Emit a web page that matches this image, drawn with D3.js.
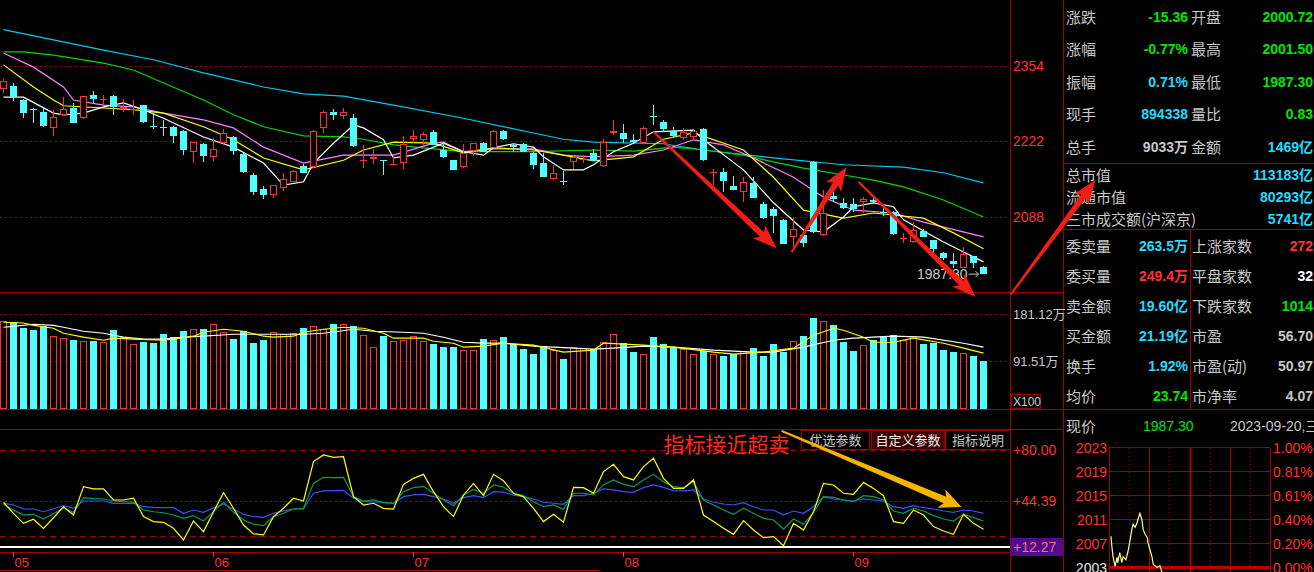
<!DOCTYPE html>
<html>
  <head>
    <meta charset="utf-8">
    <title>日K 成交量 RSI</title>
    <style>
      html, body {
        margin: 0;
        background: #000;
        overflow: hidden;
      }
      svg {
        display: block;
        font-family: 'Liberation Sans', Arial, 'Noto Sans CJK SC', sans-serif;
      }
      .cn {
        font-family: 'Noto Sans CJK SC', sans-serif;
      }
      .val {
        font-weight: bold;
        font-size: 14px;
      }
      .lbl {
        font-size: 15px;
        fill: #c8c8c8;
      }
    </style>
  </head>
  <body>
    <svg width="1314" height="572"></svg>
    <script src="https://d3js.org/d3.v7.min.js"></script>
    <script>
      // ---- daily bars, 2023-04-28 .. 2023-09-20 ----
      const opens = [
        2314, 2319, 2294, 2278, 2273, 2245, 2268, 2280, 2262, 2303,
        2294, 2301, 2278, 2277, 2285, 2248, 2247, 2247, 2240, 2203,
        2217, 2194, 2218, 2229, 2199, 2162, 2137, 2127, 2139, 2150,
        2178, 2176, 2245, 2273, 2266, 2262, 2187, 2190, 2189, 2180,
        2183, 2226, 2224, 2238, 2206, 2188, 2176, 2204, 2218, 2210,
        2240, 2215, 2217, 2201, 2183, 2155, 2152, 2185, 2189, 2201,
        2178, 2236, 2236, 2224, 2218, 2266, 2255, 2240, 2227, 2229,
        2243, 2166, 2167, 2143, 2132, 2148, 2111, 2102, 2083, 2053,
        2056, 2185, 2056, 2125, 2113, 2111, 2115, 2118, 2097, 2097,
        2049, 2044, 2063, 2048, 2025, 2011, 1998, 2019, 2000.72
      ];
      const highs = [
        2331, 2324, 2296, 2280, 2280, 2277, 2299, 2289, 2302, 2310,
        2303, 2303, 2296, 2294, 2286, 2271, 2259, 2248, 2241, 2221,
        2218, 2227, 2243, 2230, 2200, 2166, 2143, 2145, 2166, 2170,
        2181, 2241, 2275, 2278, 2280, 2269, 2215, 2208, 2189, 2196,
        2231, 2242, 2238, 2241, 2220, 2189, 2217, 2219, 2220, 2241,
        2242, 2218, 2218, 2203, 2201, 2180, 2169, 2197, 2197, 2208,
        2226, 2259, 2252, 2234, 2246, 2285, 2259, 2247, 2245, 2242,
        2244, 2173, 2174, 2160, 2159, 2159, 2114, 2106, 2084, 2088,
        2060, 2187, 2136, 2136, 2122, 2122, 2123, 2123, 2109, 2099,
        2060, 2079, 2067, 2048, 2026, 2025, 2035, 2020, 2001.50
      ];
      const lows = [
        2307, 2292, 2262, 2254, 2247, 2231, 2267, 2253, 2261, 2289,
        2284, 2268, 2273, 2268, 2254, 2243, 2231, 2218, 2197, 2183,
        2185, 2187, 2216, 2197, 2165, 2127, 2120, 2122, 2134, 2149,
        2165, 2175, 2236, 2259, 2261, 2212, 2174, 2181, 2162, 2179,
        2173, 2218, 2215, 2214, 2192, 2170, 2175, 2196, 2202, 2209,
        2224, 2203, 2202, 2173, 2158, 2154, 2144, 2173, 2183, 2186,
        2176, 2233, 2218, 2219, 2217, 2250, 2238, 2229, 2224, 2224,
        2187, 2144, 2132, 2135, 2115, 2121, 2085, 2060, 2040, 2035,
        2035, 2060, 2055, 2115, 2102, 2097, 2095, 2113, 2090, 2057,
        2042, 2043, 2052, 2025, 2012, 1998, 1998, 1998, 1987.30
      ];
      const closes = [
        2328, 2299, 2271, 2277, 2248, 2264, 2278, 2254, 2301, 2296,
        2296, 2282, 2282, 2279, 2255, 2247, 2245, 2231, 2206, 2220,
        2196, 2208, 2236, 2204, 2167, 2132, 2127, 2144, 2155, 2169,
        2166, 2240, 2273, 2268, 2273, 2213, 2189, 2194, 2187, 2182,
        2217, 2231, 2234, 2215, 2194, 2171, 2201, 2218, 2203, 2240,
        2226, 2211, 2203, 2180, 2159, 2166, 2150, 2194, 2190, 2187,
        2220, 2240, 2226, 2220, 2245, 2264, 2243, 2231, 2238, 2240,
        2188, 2167, 2152, 2136, 2150, 2122, 2086, 2090, 2040, 2067,
        2042, 2062, 2095, 2120, 2104, 2102, 2120, 2114, 2095, 2058,
        2051, 2065, 2053, 2032, 2016, 2005, 2023, 2007, 1987.30
      ];
      // volume, 万 (x100)
      const volumes = [
        168.3, 167.2, 154.4, 150.6, 158.2, 140.5, 136.7, 131.5, 131.0, 129.6,
        127.2, 150.6, 137.8, 123.4, 127.7, 125.8, 143.0, 137.3, 148.7, 153.9,
        152.5, 163.4, 148.1, 133.5, 148.7, 125.8, 131.5, 148.1, 143.0, 146.2,
        154.4, 159.6, 153.9, 162.1, 163.4, 158.2, 142.4, 119.5, 139.2, 129.1,
        132.9, 140.5, 129.1, 123.9, 118.2, 118.2, 111.9, 111.9, 133.5, 132.9,
        137.3, 123.4, 114.4, 104.9, 120.1, 112.5, 95.3, 118.8, 117.6, 115.0,
        127.2, 144.3, 125.3, 108.7, 104.9, 137.3, 124.5, 116.9, 113.8, 104.9,
        110.6, 104.9, 101.6, 104.9, 110.6, 116.3, 101.6, 123.9, 109.2, 129.6,
        139.7, 174.1, 167.8, 160.7, 128.3, 111.1, 122.0, 132.9, 137.3, 141.1,
        132.9, 140.5, 124.5, 126.4, 112.5, 109.2, 107.3, 101.0, 91.51
      ];

      // moving averages: [bar index, value]
      const ma5 = [[0,2299],[2,2299],[5,2271],[6,2268],[8,2271],[10,2282],[12,2289],[14,2277],[16,2262],[20,2229],[23,2211],[26,2183],[28,2144],[30,2150],[31,2183],[33,2218],[35,2250],[36,2245],[38,2224],[39,2192],[41,2197],[43,2211],[44,2218],[46,2203],[48,2197],[49,2210],[51,2217],[53,2211],[54,2194],[56,2171],[58,2171],[59,2180],[61,2203],[63,2218],[65,2238],[69,2241],[70,2224],[74,2171],[77,2113],[80,2065],[82,2062],[84,2088],[85,2106],[87,2113],[89,2106],[90,2083],[94,2044],[98,2009]];
      const ma10 = [[0,2356],[3,2317],[5,2294],[6,2284],[10,2280],[13,2277],[16,2271],[20,2247],[23,2224],[26,2192],[30,2171],[34,2188],[36,2206],[39,2220],[43,2218],[46,2201],[49,2210],[53,2206],[56,2197],[59,2187],[63,2194],[66,2225],[69,2236],[74,2206],[77,2158],[80,2100],[84,2086],[87,2095],[92,2086],[95,2060],[98,2032]];
      const ma20 = [[0,2377],[3,2352],[6,2317],[7,2294],[10,2285],[13,2282],[16,2271],[20,2259],[23,2245],[26,2211],[30,2183],[34,2197],[39,2197],[43,2218],[44,2220],[46,2203],[49,2208],[53,2208],[56,2197],[59,2194],[63,2197],[66,2206],[69,2224],[72,2215],[75,2192],[79,2158],[82,2123],[85,2100],[89,2095],[92,2079],[98,2053]];
      const ma60 = [[0,2379],[2,2379],[5,2373],[10,2359],[13,2347],[16,2324],[20,2294],[23,2268],[26,2247],[30,2231],[34,2229],[36,2225],[39,2215],[43,2208],[46,2203],[53,2203],[59,2206],[63,2204],[67,2211],[70,2206],[74,2197],[77,2185],[80,2174],[84,2162],[87,2153],[90,2141],[94,2118],[98,2088]];
      const ma120 = [[0,2418],[5,2400],[10,2382],[15,2365],[20,2342],[26,2317],[30,2305],[34,2301],[39,2285],[46,2262],[53,2236],[56,2225],[59,2220],[66,2217],[70,2206],[77,2192],[84,2180],[90,2176],[94,2166],[98,2148]];

      const volMa5 = [[0,165.9],[2,164.5],[3,160.1],[5,154.4],[6,144.9],[8,137.3],[10,131.5],[11,135.4],[13,133.5],[16,131.5],[17,133.5],[19,139.2],[20,146.8],[22,152.5],[24,148.7],[26,139.2],[27,137.3],[29,139.2],[30,146.8],[32,152.5],[34,156.3],[36,154.4],[38,144.9],[39,135.4],[42,135.4],[43,129.6],[45,125.8],[46,118.2],[48,120.1],[50,125.8],[53,122.0],[56,108.7],[59,112.5],[60,125.8],[64,122.0],[67,118.2],[71,108.7],[73,104.9],[76,108.7],[79,116.3],[81,141.1],[83,154.4],[84,150.6],[86,137.3],[87,127.7],[89,127.7],[91,135.4],[94,125.8],[96,116.3],[98,106.8]];
      const volMa10 = [[0,156.3],[1,158.2],[3,162.1],[5,160.1],[6,156.3],[8,148.7],[10,144.9],[12,137.3],[14,133.5],[16,133.5],[18,137.3],[20,139.2],[23,143.0],[26,143.0],[30,143.0],[32,144.9],[35,152.5],[37,148.7],[40,146.8],[42,144.9],[44,137.3],[46,127.7],[48,125.8],[50,125.8],[53,120.1],[57,116.3],[59,114.4],[61,116.3],[64,120.1],[67,118.2],[71,112.5],[75,108.7],[77,108.7],[80,118.2],[83,131.5],[85,135.4],[89,139.2],[92,137.3],[96,125.8],[98,118.2]];

      // RSI 6 / 12 / 24
      const rsi6 = [
        43.5, 35.8, 28.8, 31.6, 25.3, 32.7, 40.4, 34.6, 54.4, 52.8,
        52.8, 45.1, 45.1, 46.3, 33.5, 30.0, 29.5, 25.3, 17.2, 30.4,
        23.0, 36.9, 50.2, 39.3, 27.6, 21.4, 20.7, 33.5, 39.3, 46.3,
        44.4, 71.9, 76.5, 74.9, 75.3, 47.4, 41.6, 42.8, 39.3, 38.8,
        56.0, 60.2, 63.0, 50.9, 40.4, 33.5, 48.6, 56.7, 48.1, 63.0,
        58.5, 49.8, 47.4, 39.3, 30.0, 35.1, 29.5, 53.9, 53.7, 49.8,
        64.9, 70.0, 61.4, 59.1, 68.4, 74.2, 60.2, 53.2, 53.2, 59.1,
        34.6, 30.0, 25.3, 21.1, 30.7, 24.1, 18.8, 19.5, 13.2, 28.8,
        24.1, 36.9, 56.7, 55.6, 49.8, 49.1, 57.4, 53.2, 48.1, 30.0,
        28.8, 38.1, 34.6, 26.5, 23.4, 21.1, 35.1, 28.8, 24.6
      ];
      const rsi12 = [
        42.1, 38.0, 34.6, 35.1, 31.8, 35.5, 39.3, 36.5, 46.7, 46.0,
        45.8, 44.4, 44.0, 43.5, 38.1, 36.9, 36.2, 34.6, 32.3, 34.2,
        30.4, 37.0, 43.5, 36.5, 31.1, 28.3, 27.2, 33.5, 35.8, 38.8,
        39.3, 56.7, 60.9, 60.7, 60.9, 47.4, 44.4, 45.1, 43.2, 42.8,
        50.9, 53.7, 54.6, 49.8, 45.1, 41.1, 48.6, 52.5, 49.8, 55.6,
        54.2, 49.6, 48.1, 43.9, 40.4, 41.6, 38.6, 49.8, 49.8, 48.6,
        55.6, 59.1, 56.0, 54.4, 59.1, 63.0, 57.9, 54.4, 53.7, 57.9,
        45.1, 41.6, 38.1, 35.1, 39.3, 35.8, 32.3, 31.1, 24.8, 31.8,
        28.1, 36.5, 47.4, 46.9, 45.1, 43.9, 48.1, 47.4, 45.1, 37.4,
        35.8, 39.3, 37.4, 34.2, 31.8, 30.4, 35.1, 32.8, 30.4
      ];
      const rsi24 = [
        42.8, 41.6, 38.8, 38.8, 36.9, 39.0, 41.1, 39.3, 44.4, 44.4,
        44.4, 42.8, 42.8, 42.8, 40.4, 40.0, 39.8, 39.7, 35.8, 38.1,
        36.5, 39.5, 42.3, 38.6, 35.1, 33.5, 33.0, 35.8, 37.5, 38.8,
        38.8, 49.8, 51.4, 51.6, 51.8, 46.3, 43.9, 43.7, 43.5, 42.8,
        47.4, 48.6, 49.0, 47.4, 45.8, 42.8, 46.7, 48.1, 46.7, 50.9,
        50.6, 48.5, 47.4, 45.8, 43.5, 42.8, 42.1, 48.1, 48.1, 49.8,
        52.8, 52.1, 50.9, 50.4, 53.7, 55.6, 53.9, 51.6, 51.4, 52.1,
        45.8, 43.5, 42.3, 41.6, 43.2, 40.4, 38.1, 38.1, 34.6, 37.4,
        35.8, 40.4, 47.4, 45.8, 45.1, 44.4, 45.8, 45.1, 44.4, 40.4,
        39.3, 41.1, 39.7, 38.8, 37.4, 36.5, 38.1, 37.4, 35.8
      ];

      const priceTicks = [2354, 2222, 2088];
      const volTicks = [181.12, 91.51];
      const rsiTicks = [80, 44.39, 12.27];
      const rsiBands = [80, 20];
      const monthStarts = [1, 21, 41, 62, 85];
      const monthLabels = ['05', '06', '07', '08', '09'];

      // right info panel
      const quoteLabels = ['涨跌', '涨幅', '振幅', '现手', '总手'];
      const quoteValues = ['-15.36', '-0.77%', '0.71%', '894338', '9033万'];
      const quoteLabels2 = ['开盘', '最高', '最低', '量比', '金额'];
      const quoteValues2 = ['2000.72', '2001.50', '1987.30', '0.83', '1469亿'];
      const marketLabels = ['总市值', '流通市值', '三市成交额(沪深京)'];
      const marketValues = ['113183亿', '80293亿', '5741亿'];
      const orderLabels = ['委卖量', '委买量', '卖金额', '买金额', '换手', '均价'];
      const orderValues = ['263.5万', '249.4万', '19.60亿', '21.19亿', '1.92%', '23.74'];
      const breadthLabels = ['上涨家数', '平盘家数', '下跌家数', '市盈', '市盈(动)', '市净率'];
      const breadthValues = ['272', '32', '1014', '56.70', '50.97', '4.07'];

      // intraday mini chart: [minute, price]
      const intraday = [[3,2008.2],[4,2006.8],[6,2004.8],[9,2003.2],[12,2004.7],[13,2003.8],[16,2005.5],[19,2003.8],[21,2004.8],[25,2004.3],[28,2005.5],[31,2007.3],[34,2009.3],[36,2010.2],[39,2009.7],[42,2010.5],[43,2011.0],[46,2012.0],[49,2011.0],[51,2009.3],[54,2008.5],[57,2008.0],[58,2007.2],[61,2006.0],[64,2004.8],[66,2003.5],[72,2003.0],[76,2003.3],[79,2002.2]];
      const miniPriceTicks = [2023, 2019, 2015, 2011, 2007, 2003];
      const miniPctTicks = ['1.00%', '0.81%', '0.61%', '0.40%', '0.20%', '0.00%'];

      // annotations, in (bar index, price) / (bar index, rsi)
      const trendArrows = [
        [65, 2238, 77.3, 2033],
        [78.8, 2026, 84.3, 2176],
        [85.5, 2150, 97.2, 1947],
        [100.7, 1951, 109.2, 2153]
      ];
      const rsiArrow = [77.8, 93.3, 95.8, 40.2];

      // ---- drawing ----
      const svg = d3.select('svg');
      const RED = '#ff3232', CYAN = '#54fcfc', FRAME = '#a00000', GRID = '#a00000';
      const TXT = '#c8c8c8', GREEN = '#00e600', SKY = '#20dcff';

      const x = d3.scaleLinear().domain([0, 98]).range([3.5, 983.5]);
      const yPrice = d3.scaleLinear().domain([2088, 2354]).range([217, 66]);
      const yVol = d3.scaleLinear().domain([0, 181.12]).range([409, 314.3]);
      const yRsi = d3.scaleLinear().domain([12.27, 80]).range([547, 450]);
      const snap = v => Math.round(v) + 0.5;

      const hline = (y, x1, x2, color, w, dash) => svg.append('line')
        .attr('x1', x1).attr('x2', x2).attr('y1', y).attr('y2', y)
        .attr('stroke', color).attr('stroke-width', w || 1)
        .attr('stroke-dasharray', dash || null);
      const vline = (xv, y1, y2, color, w, dash) => svg.append('line')
        .attr('x1', xv).attr('x2', xv).attr('y1', y1).attr('y2', y2)
        .attr('stroke', color).attr('stroke-width', w || 1)
        .attr('stroke-dasharray', dash || null);

      // frames
      vline(1010.5, 0, 572, FRAME);
      vline(1063.5, 0, 572, FRAME);
      hline(292.5, 0, 1063, FRAME);
      hline(409.5, 0, 1314, FRAME);
      hline(429.5, 0, 1063, FRAME);
      hline(552.5, 0, 1063, FRAME);
      hline(570.5, 0, 600, FRAME);

      // price grid + labels
      priceTicks.forEach(p => {
        hline(snap(yPrice(p)), 0, 1010, GRID, 1, '2,3');
        svg.append('text').attr('x', 1013).attr('y', yPrice(p) + 5)
          .attr('fill', RED).attr('font-size', 14).text(p);
      });

      // moving averages
      const maLine = d3.line().x(d => x(d[0])).y(d => yPrice(d[1]));
      [[ma120, '#00c8f0'], [ma60, '#00d800'], [ma20, '#ff80ff'], [ma10, '#ffff00'], [ma5, '#ffffff']]
        .forEach(([data, color]) => {
          svg.append('path').attr('d', maLine(data)).attr('fill', 'none')
            .attr('stroke', color).attr('stroke-width', 1.2);
        });

      // candles
      const bars = d3.range(opens.length);
      const isUp = i => closes[i] >= opens[i];
      const cg = svg.append('g');
      bars.forEach(i => {
        const cx = Math.floor(x(i)) + 0.5;
        const top = Math.round(yPrice(Math.max(opens[i], closes[i])));
        const bot = Math.round(yPrice(Math.min(opens[i], closes[i])));
        const hi = Math.round(yPrice(highs[i])), lo = Math.round(yPrice(lows[i]));
        if (isUp(i)) {
          cg.append('line').attr('x1', cx).attr('x2', cx).attr('y1', hi).attr('y2', top)
            .attr('stroke', RED);
          cg.append('line').attr('x1', cx).attr('x2', cx).attr('y1', bot).attr('y2', lo)
            .attr('stroke', RED);
          if (bot - top < 2) {
            cg.append('line').attr('x1', cx - 3.5).attr('x2', cx + 3.5)
              .attr('y1', top + 0.5).attr('y2', top + 0.5).attr('stroke', RED);
          } else {
            cg.append('rect').attr('x', cx - 3).attr('y', top + 0.5)
              .attr('width', 6).attr('height', bot - top - 1)
              .attr('fill', '#000').attr('stroke', RED);
          }
        } else {
          cg.append('line').attr('x1', cx).attr('x2', cx).attr('y1', hi).attr('y2', lo)
            .attr('stroke', CYAN);
          cg.append('rect').attr('x', cx - 3.5).attr('y', top)
            .attr('width', 7).attr('height', Math.max(1, bot - top))
            .attr('fill', CYAN);
        }
      });

      // last price tag
      const lastY = yPrice(closes[98]);
      svg.append('text').attr('x', x(98) - 16).attr('y', lastY + 5)
        .attr('text-anchor', 'end').attr('font-size', 14).attr('fill', TXT)
        .text(closes[98].toFixed(2));
      svg.append('path')
        .attr('d', `M${x(98) - 15},${lastY}H${x(98) - 5}M${x(98) - 8},${lastY - 3}L${x(98) - 5},${lastY}L${x(98) - 8},${lastY + 3}`)
        .attr('stroke', TXT).attr('fill', 'none');

      // volume
      volTicks.forEach(v => {
        hline(snap(yVol(v)), 0, 1010, GRID, 1, '2,3');
        svg.append('text').attr('x', 1013).attr('y', yVol(v) + 5)
          .attr('fill', TXT).attr('font-size', 13).text(v.toFixed(2) + '万');
      });
      svg.append('rect').attr('x', 1011.5).attr('y', 394.5).attr('width', 29).attr('height', 14)
        .attr('fill', 'none').attr('stroke', FRAME);
      svg.append('text').attr('x', 1013).attr('y', 406).attr('fill', TXT)
        .attr('font-size', 12).text('X100');

      const vg = svg.append('g');
      bars.forEach(i => {
        const top = Math.round(yVol(volumes[i]));
        if (isUp(i)) {
          vg.append('rect').attr('x', Math.floor(x(i)) - 2.5).attr('y', top + 0.5)
            .attr('width', 6).attr('height', 408.5 - top - 0.5)
            .attr('fill', 'none').attr('stroke', RED);
        } else {
          vg.append('rect').attr('x', Math.floor(x(i)) - 3).attr('y', top)
            .attr('width', 7).attr('height', 409 - top).attr('fill', CYAN);
        }
      });
      const volLine = d3.line().x(d => x(d[0])).y(d => yVol(d[1]));
      [[volMa10, '#ffffff'], [volMa5, '#ffff00']].forEach(([data, color]) => {
        svg.append('path').attr('d', volLine(data)).attr('fill', 'none')
          .attr('stroke', color).attr('stroke-width', 1.2);
      });

      // RSI panel
      rsiBands.forEach(v => hline(snap(yRsi(v)), 0, 1010, GRID, 1, '6,4'));
      hline(snap(yRsi(44.39)), 0, 1010, GRID, 1, '2,3');
      hline(yRsi(12.27), 0, 1010, '#ffffff', 2);
      rsiTicks.forEach((v, k) => {
        if (k === 2) {
          svg.append('rect').attr('x', 1011).attr('y', yRsi(v) - 9).attr('width', 52).attr('height', 18)
            .attr('fill', '#4e0c92');
        }
        svg.append('text').attr('x', 1013).attr('y', yRsi(v) + 5)
          .attr('fill', k === 2 ? '#ff6a6a' : RED).attr('font-size', 14)
          .text('+' + v.toFixed(2));
      });
      const rsiLine = d3.line().x((d, i) => x(i)).y(d => yRsi(d));
      [[rsi24, '#3c50ff'], [rsi12, '#00a050'], [rsi6, '#ffff00']].forEach(([data, color]) => {
        svg.append('path').attr('d', rsiLine(data)).attr('fill', 'none')
          .attr('stroke', color).attr('stroke-width', 1.2);
      });

      // buttons
      const buttons = [['优选参数', 801, 68, false], ['自定义参数', 871, 73, true], ['指标说明', 945, 65, false]];
      buttons.forEach(([t, bx, bw, on]) => {
        svg.append('rect').attr('x', bx + 0.5).attr('y', 430.5).attr('width', bw).attr('height', 19)
          .attr('fill', on ? '#3c0000' : '#000').attr('stroke', FRAME);
        svg.append('text').attr('class', 'cn').attr('x', bx + bw / 2 + 0.5).attr('y', 445)
          .attr('text-anchor', 'middle').attr('font-size', 13)
          .attr('fill', on ? '#f0f0f0' : TXT).text(t);
      });

      svg.append('text').attr('class', 'cn').attr('x', x(66)).attr('y', 452)
        .attr('font-size', 21).attr('fill', '#ff2a1a').text('指标接近超卖');

      // date axis
      monthStarts.forEach((m, k) => {
        vline(Math.floor(x(m)) + 0.5, 552, 557, RED);
        svg.append('text').attr('x', x(m) + 1).attr('y', 567)
          .attr('font-size', 13).attr('fill', RED).text(monthLabels[k]);
      });

      // arrows
      function arrowPath(x1, y1, x2, y2, tailW, neckW, headW, headL) {
        const len = Math.hypot(x2 - x1, y2 - y1);
        const ux = (x2 - x1) / len, uy = (y2 - y1) / len, nx = -uy, ny = ux;
        const bx = x2 - ux * headL, by = y2 - uy * headL;
        const bx2 = bx - ux * 4, by2 = by - uy * 4;
        const pts = [
          [x1 + nx * tailW / 2, y1 + ny * tailW / 2],
          [bx + nx * neckW / 2, by + ny * neckW / 2],
          [bx2 + nx * headW / 2, by2 + ny * headW / 2],
          [x2, y2],
          [bx2 - nx * headW / 2, by2 - ny * headW / 2],
          [bx - nx * neckW / 2, by - ny * neckW / 2],
          [x1 - nx * tailW / 2, y1 - ny * tailW / 2]
        ];
        return 'M' + pts.map(p => p.join(',')).join('L') + 'Z';
      }

      // right info panel
      const rowsA = [17, 49, 82, 114, 147];
      const quoteColors = [GREEN, GREEN, SKY, SKY, TXT];
      const quoteColors2 = [GREEN, GREEN, GREEN, GREEN, SKY];
      rowsA.forEach((cy, k) => {
        svg.append('text').attr('class', 'cn lbl').attr('x', 1066).attr('y', cy + 5.5).text(quoteLabels[k]);
        svg.append('text').attr('class', 'val').attr('x', 1188).attr('y', cy + 5)
          .attr('text-anchor', 'end').attr('fill', quoteColors[k]).text(quoteValues[k]);
        svg.append('text').attr('class', 'cn lbl').attr('x', 1191).attr('y', cy + 5.5).text(quoteLabels2[k]);
        svg.append('text').attr('class', 'val').attr('x', 1313).attr('y', cy + 5)
          .attr('text-anchor', 'end').attr('fill', quoteColors2[k]).text(quoteValues2[k]);
      });
      hline(163.5, 1063, 1314, FRAME);
      [175, 197, 219].forEach((cy, k) => {
        svg.append('text').attr('class', 'cn lbl').attr('x', 1066).attr('y', cy + 5.5).text(marketLabels[k]);
        svg.append('text').attr('class', 'val').attr('x', 1313).attr('y', cy + 5)
          .attr('text-anchor', 'end').attr('fill', SKY).text(marketValues[k]);
      });
      hline(229.5, 1063, 1314, FRAME);
      vline(1190.5, 229, 410, FRAME);
      const orderColors = [SKY, RED, SKY, SKY, SKY, GREEN];
      const breadthColors = [RED, '#ffffff', GREEN, TXT, TXT, TXT];
      [246, 276, 306, 336, 366, 396].forEach((cy, k) => {
        svg.append('text').attr('class', 'cn lbl').attr('x', 1066).attr('y', cy + 5.5).text(orderLabels[k]);
        svg.append('text').attr('class', 'val').attr('x', 1188).attr('y', cy + 5)
          .attr('text-anchor', 'end').attr('fill', orderColors[k]).text(orderValues[k]);
        svg.append('text').attr('class', 'cn lbl').attr('x', 1192).attr('y', cy + 5.5).text(breadthLabels[k]);
        svg.append('text').attr('class', 'val').attr('x', 1313).attr('y', cy + 5)
          .attr('text-anchor', 'end').attr('fill', breadthColors[k]).text(breadthValues[k]);
      });

      svg.append('text').attr('class', 'cn lbl').attr('x', 1066).attr('y', 431.5).text('现价');
      svg.append('text').attr('x', 1143).attr('y', 431).attr('font-size', 14)
        .attr('fill', GREEN).text(closes[98].toFixed(2));
      svg.append('text').attr('x', 1230).attr('y', 431).attr('font-size', 14)
        .attr('fill', TXT).text('2023-09-20,三');

      // mini intraday chart
      const xMini = d3.scaleLinear().domain([0, 240]).range([1109, 1270]);
      const yMini = d3.scaleLinear().domain([2003, 2023]).range([567.5, 447.5]);
      [30, 90, 150, 210].forEach(m => vline(snap(xMini(m)), 448, 572, FRAME, 1, '1,3'));
      [60, 180].forEach(m => vline(snap(xMini(m)), 448, 572, FRAME));
      vline(snap(xMini(120)), 448, 572, FRAME, 2);
      vline(snap(xMini(0)), 448, 572, FRAME);
      vline(snap(xMini(240)), 448, 572, FRAME);
      miniPriceTicks.forEach((p, k) => {
        const yy = yMini(p);
        if (k === miniPriceTicks.length - 1) {
          hline(yy, 1109, 1270, '#c00000', 3);
        } else {
          hline(yy, 1109, 1270, FRAME);
        }
        svg.append('text').attr('x', 1107).attr('y', yy + 5).attr('text-anchor', 'end')
          .attr('font-size', 14).attr('fill', k === miniPriceTicks.length - 1 ? '#e8e8e8' : RED).text(p);
        svg.append('text').attr('x', 1273).attr('y', yy + 5)
          .attr('font-size', 14).attr('fill', RED).text(miniPctTicks[k]);
      });
      svg.append('path')
        .attr('d', d3.line().x(d => xMini(d[0])).y(d => yMini(d[1]))(intraday))
        .attr('fill', 'none').attr('stroke', '#ffff90').attr('stroke-width', 1.2);

      // annotation arrows on top
      trendArrows.forEach(([i1, p1, i2, p2]) => {
        svg.append('path')
          .attr('d', arrowPath(x(i1), yPrice(p1), x(i2), yPrice(p2), 2, 6, 18, 20))
          .attr('fill', '#f01e14');
      });
      svg.append('path')
        .attr('d', arrowPath(x(rsiArrow[0]), yRsi(rsiArrow[1]), x(rsiArrow[2]), yRsi(rsiArrow[3]), 2, 7, 20, 18))
        .attr('fill', '#f5b400');
    </script>
  </body>
</html>
